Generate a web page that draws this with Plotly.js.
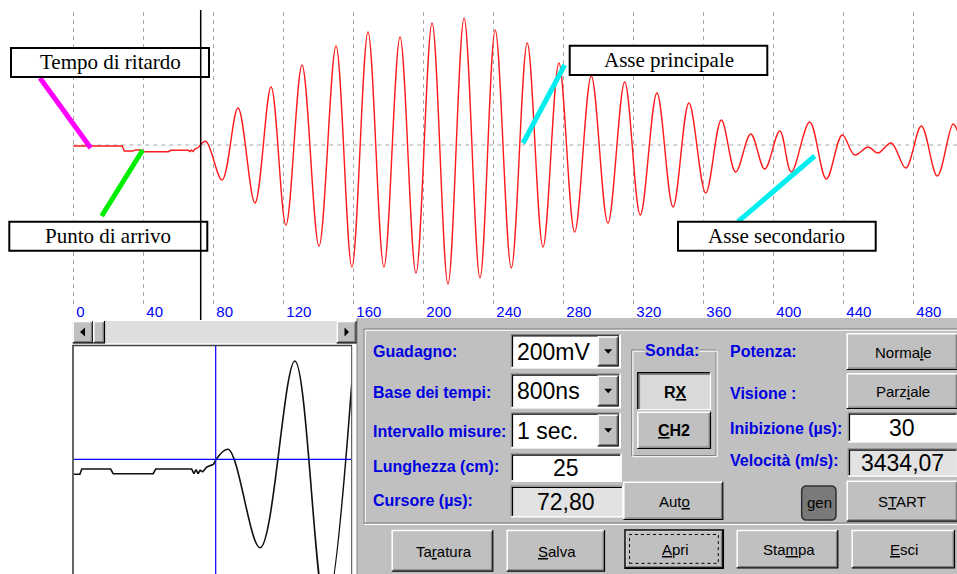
<!DOCTYPE html>
<html><head><meta charset="utf-8">
<script src="https://cdn.plot.ly/plotly-3.0.1.min.js"></script>
<style>html,body{margin:0;padding:0;background:#fff;}#chart{width:957px;height:574px;}</style>
</head><body><div id="chart"></div>
<script>
// ---------------- DATA ----------------
const tickValues = [0, 40, 80, 120, 160, 200, 240, 280, 320, 360, 400, 440, 480];
const tickLabels = ["0", "40", "80", "120", "160", "200", "240", "280", "320", "360", "400", "440", "480"];
const cursorUs = 72.80;

// main trace (time in µs, amplitude in screen units): pre-arrival noise
const preX = [0, 28.0, 29.1, 34.3, 35.3, 39.1, 40.4, 54.3, 55.8, 65.7, 66.7, 67.5, 68.4, 69.5, 71.4];
const preY = [-1, -1, -6, -6, -5, -5, -6.7, -6.7, -5.3, -5.3, -6.5, -5, -6.5, -4, -2.7];
// main trace: oscillation (peaks and troughs)
const waveX = [71.4, 75.7, 85.0, 94.1, 103.8, 113.0, 121.5, 130.7, 140.4, 150.1, 159.2, 168.4, 177.5, 186.7, 195.8,
  205.0, 214.1, 223.3, 232.4, 241.1, 250.3, 259.4, 268.4, 277.5, 286.5, 296.0, 305.5, 315.1, 324.0, 333.5, 342.7,
  351.8, 361.4, 370.3, 378.5, 387.1, 395.1, 403.7, 410.3, 420.8, 430.3, 439.4, 446.5, 454.1, 459.8, 467.4, 475.7,
  484.6, 493.7, 502.7, 505.5];
const waveY = [-2.7, 3.7, -35, 37, -58, 58, -80, 80, -101, 99, -122, 113, -122, 108, -128,
  122, -139, 127, -133, 115, -123, 102, -102, 82, -87, 69, -78, 63, -70, 52, -62,
  42, -48, 25, -27, 11, -24, 14, -27, 23, -34, 10, -10, -2, -8, 2, -23,
  19, -31, 21, 13];

// zoom window trace
const zoomPreX = [34.3, 36.1, 36.6, 44.4, 45.1, 55.9, 56.6, 66.3, 66.9, 67.5, 68.0, 68.6, 69.3, 70.4, 72.2, 72.8];
const zoomPreY = [-15, -15, -9.7, -9.7, -14.4, -14.4, -9.7, -9.7, -14.4, -10.4, -14.4, -11, -12.4, -7.7, -5, -0.7];
const zoomWaveX = [72.8, 76.2, 84.8, 94.2, 102.5, 111.0];
const zoomWaveY = [-0.7, 10, -88.4, 98.3, -150, 150];

// texts
const calloutLabels = ["Tempo di ritardo", "Punto di arrivo", "Asse principale", "Asse secondario"];
const leftLabels = ["Guadagno:", "Base dei tempi:", "Intervallo misure:", "Lunghezza (cm):", "Cursore (µs):"];
const comboValues = ["200mV", "800ns", "1 sec."];
const lengthCm = "25";
const cursorText = "72,80";
const rightLabels = ["Potenza:", "Visione :", "Inibizione (µs):", "Velocità (m/s):"];
const inhibitionText = "30";
const velocityText = "3434,07";
const probeTitle = "Sonda:";
const probeButtons = ["R<u>X</u>", "<u>C</u>H2"];
const modeButtons = ["Norma<u>l</u>e", "Parz<u>i</u>ale"];
const autoLabel = "Aut<u>o</u>";
const genLabel = "gen";
const startLabel = "S<u>T</u>ART";
const bottomButtons = ["Ta<u>r</u>atura", "<u>S</u>alva", "<u>A</u>pri", "Sta<u>m</u>pa", "<u>E</u>sci"];

// ---------------- LAYOUT HELPERS ----------------
const W = 957, H = 574;
const X = p => p / W;
const Y = p => 1 - p / H;
const C = {panel: '#c0c0c0', dark: '#808080', black: '#000000', white: '#ffffff', blue: '#0000e0'};
const shapes = [];
const annotations = [];
const FONT = 'Liberation Sans, Arial, sans-serif';

function P(x, y) { return X(x).toFixed(5) + ',' + Y(y).toFixed(5); }
function path(pts, color, w, fill, closed) {
  shapes.push({type: 'path', xref: 'paper', yref: 'paper', layer: 'above',
    path: 'M' + pts.map(p => P(p[0], p[1])).join('L') + (closed ? 'Z' : ''),
    line: {color: color || 'rgba(0,0,0,0)', width: w || 0},
    fillcolor: fill || 'rgba(0,0,0,0)'});
}
function rect(x0, y0, x1, y1, fill, lc, lw, dash, layer) {
  shapes.push({type: 'rect', xref: 'paper', yref: 'paper', layer: layer || 'above',
    x0: X(x0), x1: X(x1), y0: Y(y1), y1: Y(y0),
    fillcolor: fill || 'rgba(0,0,0,0)',
    line: {color: lc || 'rgba(0,0,0,0)', width: lw || 0, dash: dash || 'solid'}});
}
function raised(x0, y0, x1, y1, fill) {
  rect(x0, y0, x1, y1, fill || C.panel);
  path([[x0 + 0.5, y1], [x0 + 0.5, y0 + 0.5], [x1, y0 + 0.5]], C.white, 1.5);
  path([[x0 + 1.5, y1 - 1.8], [x1 - 1.8, y1 - 1.8], [x1 - 1.8, y0 + 1.5]], C.dark, 1.2);
  path([[x0, y1 - 0.5], [x1 - 0.5, y1 - 0.5], [x1 - 0.5, y0]], C.black, 1.2);
}
function sunken(x0, y0, x1, y1, fill) {
  rect(x0, y0, x1, y1, fill || C.white);
  path([[x0 + 0.5, y1], [x0 + 0.5, y0 + 0.5], [x1, y0 + 0.5]], C.dark, 1.2);
  path([[x0 + 1.8, y1 - 1.5], [x0 + 1.8, y0 + 1.8], [x1 - 1.5, y0 + 1.8]], C.black, 1.2);
  path([[x0, y1 - 0.5], [x1 - 0.5, y1 - 0.5], [x1 - 0.5, y0]], C.white, 1.2);
}
function etched(x0, y0, x1, y1) {
  rect(x0, y0, x1, y1, null, C.dark, 1);
  rect(x0 + 1.2, y0 + 1.2, x1 + 1.2, y1 + 1.2, null, C.white, 1);
}
function text(t, x, y, size, color, anchor, weight, family, bg) {
  const a = {xref: 'paper', yref: 'paper', x: X(x), y: Y(y), text: t, showarrow: false,
    xanchor: anchor || 'center', yanchor: 'middle', borderpad: 0,
    font: {family: family || FONT, size: size, color: color || C.black, weight: weight || 'normal'}};
  if (bg) a.bgcolor = bg;
  annotations.push(a);
}

// ---------------- LOWER PANEL ----------------
// small zoom window box & scrollbar
rect(73, 345, 352, 574, C.white, null, 0, 'solid', 'below');
rect(72.7, 321, 356.7, 343.3, '#dedede');
raised(72.7, 321, 93.3, 343.3);
path([[80, 332], [85, 327.5], [85, 336.5]], null, 0, C.black, true);
raised(93.3, 321, 105, 343.3);
raised(336.7, 321, 356.7, 343.3);
path([[349, 332], [344.5, 327.5], [344.5, 336.5]], null, 0, C.black, true);

// panel
rect(357, 318, 957, 574, C.panel);
path([[357, 318], [357, 574]], C.dark, 1);
path([[364, 524], [364, 329], [957, 329]], C.dark, 1);
path([[365.3, 523], [365.3, 330.3], [957, 330.3]], C.white, 1);
path([[364, 523], [957, 523]], C.dark, 1);
path([[364, 524.5], [957, 524.5]], C.white, 1.2);

// left labels
const leftLabelY = [351.7, 392.5, 431.2, 466.7, 500.5];
leftLabels.forEach((t, i) => text(t, 371.5, leftLabelY[i], 16, C.blue, 'left', 'bold'));

// combos
const comboBoxes = [[510.7, 334, 620.7, 368.3], [510.7, 373.3, 620.7, 408.3], [510.7, 412.3, 620.7, 448.3]];
comboBoxes.forEach((b, i) => {
  sunken(b[0], b[1], b[2], b[3], C.white);
  raised(b[2] - 23, b[1] + 2.5, b[2] - 2, b[3] - 2);
  const cx = b[2] - 12.5, cy = (b[1] + b[3]) / 2;
  path([[cx - 4, cy - 2], [cx + 4, cy - 2], [cx, cy + 2.5]], null, 0, C.black, true);
  text(comboValues[i], 516, cy + 0.5, 23, C.black, 'left');
});

// fields
sunken(510.7, 453.3, 621.7, 481.7, C.white);
text(lengthCm, 566, 467.8, 23, C.black);
sunken(510.7, 485.7, 623.3, 517.3, '#e2e2e2');
text(cursorText, 566, 501.8, 23, C.black);

// probe group
etched(631.7, 350, 716, 455.5);
text(probeTitle, 671.7, 350.5, 16, C.blue, 'center', 'bold', FONT, C.panel);
rect(637.3, 372.3, 711, 410, '#d9d9d9');
path([[637.8, 410], [637.8, 372.8], [711, 372.8]], C.black, 1.5);
path([[639.5, 410], [639.5, 374.5], [711, 374.5]], C.dark, 1.2);
path([[637.3, 409.5], [710.5, 409.5], [710.5, 372.3]], C.white, 1.2);
text(probeButtons[0], 675, 392.3, 16, C.black, 'center', 'bold');
raised(637.3, 411.7, 711, 449);
text(probeButtons[1], 673.5, 430.5, 16, C.black, 'center', 'bold');

// right labels
const rightLabelY = [351.7, 393, 428.3, 460.5];
rightLabels.forEach((t, i) => text(t, 729, rightLabelY[i], 16, C.blue, 'left', 'bold'));

// right column buttons / fields
raised(846.7, 333.3, 958, 370);
text(modeButtons[0], 903, 352.3, 15, C.black);
raised(846.7, 373.3, 958, 409);
text(modeButtons[1], 903, 391.7, 15, C.black);
sunken(847.7, 412.3, 958, 442.3, C.white);
text(inhibitionText, 902, 428.3, 23, C.black);
sunken(847.7, 448.3, 958, 476.7, '#e2e2e2');
text(velocityText, 902, 462.5, 23, C.black);
raised(846.7, 480.7, 958, 521.7);
text(startLabel, 902, 501.7, 15, C.black);

// auto + gen
raised(623.3, 481.7, 723.3, 520);
text(autoLabel, 674.3, 501.7, 15, C.black);
(function () {
  const x0 = 801.7, y0 = 486, x1 = 836, y1 = 520, r = 5;
  shapes.push({type: 'path', xref: 'paper', yref: 'paper', layer: 'above',
    path: 'M' + P(x0 + r, y0) + 'L' + P(x1 - r, y0) + 'Q' + P(x1, y0) + ' ' + P(x1, y0 + r) +
      'L' + P(x1, y1 - r) + 'Q' + P(x1, y1) + ' ' + P(x1 - r, y1) + 'L' + P(x0 + r, y1) +
      'Q' + P(x0, y1) + ' ' + P(x0, y1 - r) + 'L' + P(x0, y0 + r) + 'Q' + P(x0, y0) + ' ' + P(x0 + r, y0) + 'Z',
    fillcolor: '#7a7a7a', line: {color: '#303030', width: 1.5}});
})();
text(genLabel, 819, 502.7, 15, C.black);

// bottom buttons
const bottomBoxes = [[391.7, 530, 493.3, 571.7], [506.7, 530, 605, 571.7], [625, 530, 723.3, 568.3],
  [736.7, 530, 838.3, 568.3], [851.7, 530, 955, 568.3]];
bottomBoxes.forEach((b, i) => {
  raised(b[0], b[1], b[2], b[3]);
  if (i === 2) {
    rect(b[0], b[1], b[2], b[3], null, C.black, 1.5);
    rect(b[0] + 4.5, b[1] + 4.5, b[2] - 5, b[3] - 5, null, C.black, 1, 'dot');
  }
  text(bottomButtons[i], (b[0] + b[2]) / 2 + 1, (b[1] + b[3]) / 2 + 0.5, 15, C.black);
});

// small window border (drawn after panel)
path([[73, 574], [73, 345.5], [352, 345.5]], '#404040', 1.6);
path([[351.7, 346], [351.7, 574]], '#404040', 1);

// ---------------- CALLOUTS ----------------
const calloutLines = [
  {c: '#ff00ff', p: [[40, 78], [90.7, 148]]},
  {c: '#00ee00', p: [[101.7, 216], [142.7, 150]]},
  {c: '#00eeee', p: [[523, 143.3], [564.7, 65]]},
  {c: '#00eeee', p: [[738, 221.7], [814.7, 156]]}
];
calloutLines.forEach(l => path(l.p, l.c, 5));
const calloutBoxes = [[11, 48, 209, 77], [9.3, 221.7, 207.3, 250.7], [569.7, 45.7, 767.3, 75], [678, 221.7, 875.7, 250.7]];
calloutBoxes.forEach((b, i) => {
  rect(b[0], b[1], b[2], b[3], C.white, C.black, 2);
  text(calloutLabels[i], (b[0] + b[2]) / 2, (b[1] + b[3]) / 2, 21, C.black, 'center', 'normal', 'Liberation Serif, Times New Roman, serif');
});

// cursor line (main chart) and baseline
shapes.unshift({type: 'line', xref: 'x', yref: 'y', layer: 'below', x0: 0, x1: 506, y0: 0, y1: 0,
  line: {color: '#a8a8a8', width: 1, dash: '4px,4px'}});
shapes.push({type: 'line', xref: 'x', yref: 'paper', x0: cursorUs, x1: cursorUs, y0: Y(320), y1: Y(10),
  line: {color: C.black, width: 1.5}, layer: 'above'});
// zoom window crosshair
shapes.push({type: 'line', xref: 'x2', yref: 'paper', x0: cursorUs, x1: cursorUs, y0: 0, y1: Y(346),
  line: {color: '#0000ff', width: 1.2}, layer: 'above'});
shapes.push({type: 'line', xref: 'paper', yref: 'y2', x0: X(74), x1: X(351), y0: 0, y1: 0,
  line: {color: '#0000ff', width: 1.2}, layer: 'above'});

// ---------------- TRACES ----------------
const traces = [
  {x: preX, y: preY, type: 'scatter', mode: 'lines', line: {color: '#ff1a1a', width: 1.4}, hoverinfo: 'skip'},
  {x: waveX, y: waveY, type: 'scatter', mode: 'lines', line: {color: '#ff1a1a', width: 1.4, shape: 'spline', smoothing: 1}, hoverinfo: 'skip'},
  {x: zoomPreX, y: zoomPreY, type: 'scatter', mode: 'lines', xaxis: 'x2', yaxis: 'y2', line: {color: '#101010', width: 1.6}, hoverinfo: 'skip'},
  {x: zoomWaveX, y: zoomWaveY, type: 'scatter', mode: 'lines', xaxis: 'x2', yaxis: 'y2', line: {color: '#101010', width: 1.6, shape: 'spline', smoothing: 1}, hoverinfo: 'skip'}
];

const pxPerUs = 1.75, x0px = 73.3, basePx = 145;
const zPxPerUs = 3.7, zCursorPx = 215.7, zBasePx = 459.3;
const layout = {
  width: W, height: H, margin: {l: 0, r: 0, t: 0, b: 0},
  paper_bgcolor: '#ffffff', plot_bgcolor: 'rgba(0,0,0,0)', showlegend: false,
  xaxis: {domain: [0, 1], range: [-x0px / pxPerUs, (W - x0px) / pxPerUs], anchor: 'y',
    tickmode: 'array', tickvals: tickValues, ticktext: tickLabels,
    showgrid: true, gridcolor: '#a8a8a8', griddash: '4px,4px', gridwidth: 1,
    zeroline: false, showline: false, ticks: '',
    ticklabelposition: 'outside right', ticklabelstandoff: -3, ticklabelshift: 3,
    tickfont: {family: FONT, size: 15, color: '#0000ff'}, fixedrange: true},
  yaxis: {domain: [Y(304), Y(12)], range: [basePx - 304, basePx - 12], visible: false, fixedrange: true},
  xaxis2: {domain: [X(74), X(351)], anchor: 'y2', visible: false, fixedrange: true,
    range: [cursorUs - (zCursorPx - 74) / zPxPerUs, cursorUs + (351 - zCursorPx) / zPxPerUs]},
  yaxis2: {domain: [0, Y(346)], anchor: 'x2', visible: false, fixedrange: true,
    range: [zBasePx - 574, zBasePx - 346]},
  shapes: shapes,
  annotations: annotations
};
Plotly.newPlot('chart', traces, layout, {staticPlot: true, displayModeBar: false});
</script>
</body></html>
